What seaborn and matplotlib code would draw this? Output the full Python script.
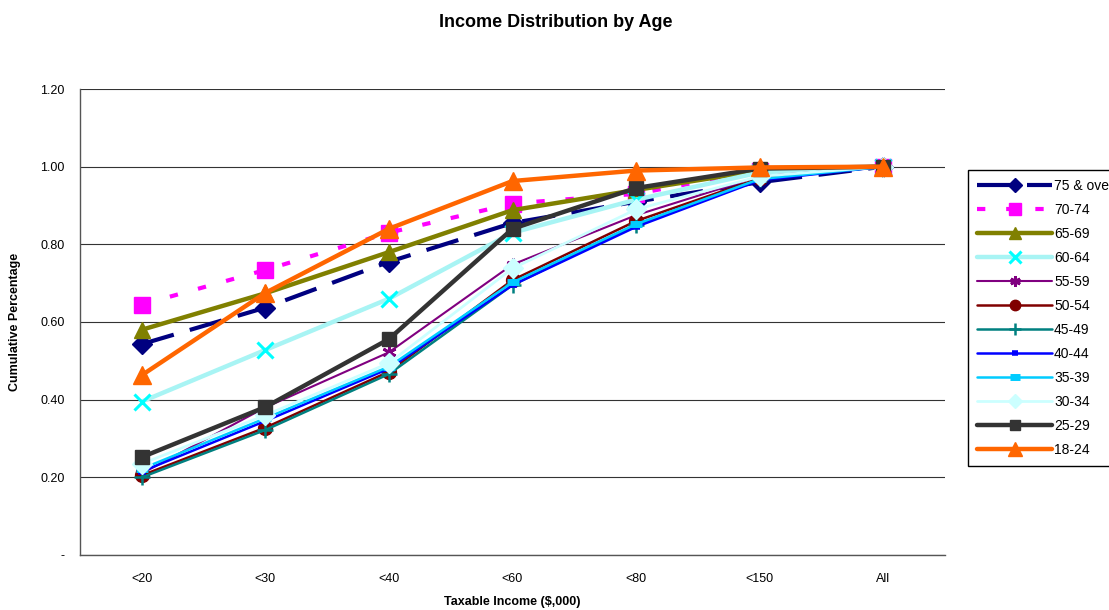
import matplotlib
matplotlib.use("Agg")
import matplotlib.pyplot as plt
import seaborn as sns

# ---- data ----
categories = ["<20", "<30", "<40", "<60", "<80", "<150", "All"]
series_names = ["75 & over", "70-74", "65-69", "60-64", "55-59", "50-54",
                "45-49", "40-44", "35-39", "30-34", "25-29", "18-24"]
age_75_over = [0.543, 0.637, 0.755, 0.855, 0.910, 0.960, 1.00]
age_70_74 = [0.645, 0.734, 0.830, 0.905, 0.930, 0.990, 1.00]
age_65_69 = [0.580, 0.674, 0.780, 0.888, 0.940, 0.990, 1.00]
age_60_64 = [0.395, 0.528, 0.660, 0.830, 0.915, 0.985, 1.00]
age_55_59 = [0.210, 0.380, 0.522, 0.748, 0.875, 0.975, 1.00]
age_50_54 = [0.205, 0.328, 0.472, 0.708, 0.860, 0.970, 1.00]
age_45_49 = [0.200, 0.322, 0.466, 0.695, 0.850, 0.968, 1.00]
age_40_44 = [0.215, 0.345, 0.480, 0.695, 0.845, 0.965, 1.00]
age_35_39 = [0.222, 0.352, 0.485, 0.702, 0.852, 0.968, 1.00]
age_30_34 = [0.235, 0.360, 0.494, 0.738, 0.890, 0.975, 1.00]
age_25_29 = [0.252, 0.381, 0.556, 0.840, 0.945, 0.995, 1.00]
age_18_24 = [0.463, 0.675, 0.840, 0.963, 0.990, 0.998, 1.00]
values = [age_75_over, age_70_74, age_65_69, age_60_64, age_55_59, age_50_54,
          age_45_49, age_40_44, age_35_39, age_30_34, age_25_29, age_18_24]
ytick_vals = [0.0, 0.2, 0.4, 0.6, 0.8, 1.0, 1.2]
ytick_labels = ["-", "0.20", "0.40", "0.60", "0.80", "1.00", "1.20"]

# ---- styles ----
styles = {
    "75 & over": dict(color="#000080", lw=3.0, ls=(0, (8, 4)), marker="D", ms=10, mfc="#000080", mec="#000080", mew=1),
    "70-74": dict(color="#FF00FF", lw=3.0, ls=(0, (2, 5)), marker="s", ms=12, mfc="#FF00FF", mec="#FF00FF", mew=1),
    "65-69": dict(color="#808000", lw=3.2, ls="-", marker="^", ms=12, mfc="#808000", mec="#808000", mew=1),
    "60-64": dict(color="#A8F4F4", lw=3.2, ls="-", marker="x", ms=12, mfc="#00FFFF", mec="#00FFFF", mew=2.2),
    "55-59": dict(color="#800080", lw=1.5, ls="-", marker=(6, 2, 0), ms=10, mfc="#800080", mec="#800080", mew=2),
    "50-54": dict(color="#800000", lw=1.8, ls="-", marker="o", ms=10, mfc="#800000", mec="#800000", mew=1),
    "45-49": dict(color="#008080", lw=1.8, ls="-", marker="+", ms=12, mfc="#008080", mec="#008080", mew=1.8),
    "40-44": dict(color="#0000FF", lw=1.8, ls="-", marker="_", ms=6, mfc="#0000FF", mec="#0000FF", mew=4),
    "35-39": dict(color="#00CCFF", lw=1.8, ls="-", marker="_", ms=9, mfc="#00CCFF", mec="#00CCFF", mew=5),
    "30-34": dict(color="#CCFFFF", lw=2.0, ls="-", marker="D", ms=10, mfc="#CCFFFF", mec="#CCFFFF", mew=1),
    "25-29": dict(color="#333333", lw=3.2, ls="-", marker="s", ms=10, mfc="#333333", mec="#333333", mew=1),
    "18-24": dict(color="#FF6600", lw=3.2, ls="-", marker="^", ms=13, mfc="#FF6600", mec="#FF6600", mew=1),
}

sns.set_style("white")
plt.rcParams["font.family"] = ["Liberation Sans", "DejaVu Sans"]
plt.rcParams["text.color"] = "black"
plt.rcParams["axes.labelcolor"] = "black"
plt.rcParams["xtick.color"] = "black"
plt.rcParams["ytick.color"] = "black"

fig = plt.figure(figsize=(11.09, 6.10), dpi=100)
ax = fig.add_axes([80 / 1109, 1 - 555 / 610, (945 - 80) / 1109, (555 - 89) / 610])

for name, vals in zip(series_names, values):
    st = styles[name]
    sns.lineplot(x=categories, y=vals, ax=ax, sort=False, label=name,
                 color=st["color"], linewidth=st["lw"], linestyle=st["ls"],
                 marker=st["marker"], markersize=st["ms"],
                 markerfacecolor=st["mfc"], markeredgecolor=st["mec"],
                 markeredgewidth=st["mew"])

ax.set_xlim(-0.5, len(categories) - 0.5)
ax.set_ylim(0, 1.2)
ax.set_yticks(ytick_vals)
ax.set_yticklabels(ytick_labels, fontsize=9)
ax.set_xticks(range(len(categories)))
ax.set_xticklabels(categories, fontsize=9)
ax.set_xticks([i - 0.5 for i in range(len(categories) + 1)], minor=True)
ax.tick_params(axis="x", which="major", length=0, pad=13)
ax.tick_params(axis="x", which="minor", length=5, direction="out", color="#333333", width=0.8)
ax.tick_params(axis="y", which="major", length=5, direction="out", color="#333333", width=0.8, pad=6)
ax.grid(axis="y", color="#333333", linewidth=0.8)
ax.set_axisbelow(True)
for s in ["top", "right"]:
    ax.spines[s].set_visible(False)
for s in ["left", "bottom"]:
    ax.spines[s].set_color("#555555")
    ax.spines[s].set_linewidth(1.0)

ax.set_xlabel("Taxable Income ($,000)", fontsize=9, fontweight="bold", labelpad=8)
ax.set_ylabel("Cumulative Percentage", fontsize=9, fontweight="bold", labelpad=14)
fig.suptitle("Income Distribution by Age", fontsize=13, fontweight="bold", x=556 / 1109, y=1 - 14 / 610, va="top")

leg = ax.legend(loc="upper left", bbox_to_anchor=(968 / 1109, 1 - 170 / 610),
                bbox_transform=fig.transFigure, fontsize=10, frameon=True,
                fancybox=False, edgecolor="black", framealpha=1,
                handlelength=5.4, handletextpad=0.15, labelspacing=0.72,
                borderpad=0.65, borderaxespad=0, numpoints=1, markerscale=0.75)
leg.get_frame().set_linewidth(1.0)

fig.savefig("out.png", dpi=100)
